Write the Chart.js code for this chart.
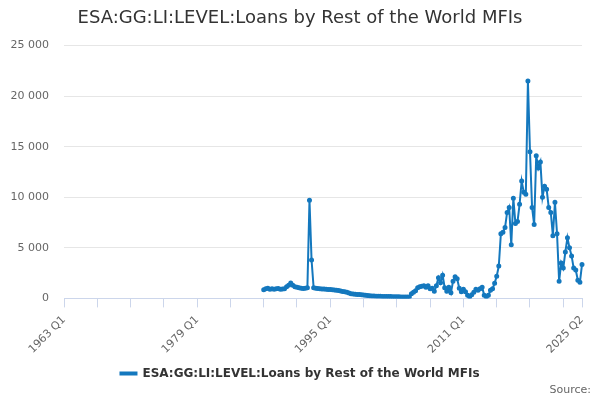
<!DOCTYPE html>
<html lang="en">
<head>
    <meta charset="UTF-8" />
    <title>ESA:GG:LI:LEVEL:Loans by Rest of the World MFIs</title>
    <script src="https://cdn.jsdelivr.net/npm/chart.js"></script>
    <style>
        body { margin: 0; background: #fff; }
    </style>
</head>
<body>
    <canvas id="loansChart" width="600" height="400"></canvas>

    <script>
        // quarters from 1963 Q1 to 2025 Q2
        const firstYear = 1963;
        const lastYear = 2025;
        const lastQuarter = 2;
        const quarterLabels = [];
        for (let y = firstYear; y <= lastYear; y++) {
            for (let q = 1; q <= 4; q++) {
                if (y === lastYear && q > lastQuarter) break;
                quarterLabels.push(y + ' Q' + q);
            }
        }

        // series starts at 1987 Q1
        const seriesStart = '1987 Q1';
        const loanValues = [
            850, 950, 1000, 900, 950, 900, 950, 980, 900, 920,
            950, 1150, 1300, 1520, 1300, 1150, 1100, 1050, 1000, 980,
            1000, 1050, 9700, 3800, 1050, 1000, 980, 950, 930, 920,
            900, 880, 870, 850, 830, 800, 770, 730, 690, 650,
            600, 540, 470, 430, 400, 390, 380, 360, 340, 320,
            290, 260, 240, 230, 220, 210, 210, 200, 190, 190,
            180, 180, 170, 170, 160, 160, 150, 150, 140, 130,
            150, 450, 600, 750, 1050, 1150, 1200, 1250, 1100, 1250,
            950, 1000, 700, 1250, 2050, 1550, 2300, 1050, 700, 1100,
            550, 1700, 2150, 1950, 1000, 650, 900, 650, 300, 150,
            350, 600, 900, 800, 950, 1100, 300, 150, 300, 800,
            950, 1500, 2200, 3200, 6400, 6550, 7000, 8500, 9000, 5300,
            9900, 7400, 7600, 9300, 11600, 10500, 10300, 21500, 14500, 9000,
            7300, 14100, 12900, 13500, 10000, 11100, 10800, 9000, 8500, 6200,
            9500, 6400, 1700, 3500, 3000, 4600, 6000, 5000, 4200, 3000,
            2800, 1800, 1600, 3350
        ];

        const labelQuarters = ['1963 Q1', '1979 Q1', '1995 Q1', '2011 Q1', '2025 Q2'];
        const yTicks = [0, 5000, 10000, 15000, 20000, 25000];

        const startIndex = quarterLabels.indexOf(seriesStart);
        const seriesData = quarterLabels.map((_, i) =>
            i >= startIndex && i - startIndex < loanValues.length ? loanValues[i - startIndex] : null);

        const lineColor = '#1478be';
        Chart.defaults.font.family = '"DejaVu Sans", sans-serif';

        function formatThousands(v) {
            return String(v).replace(/\B(?=(\d{3})+(?!\d))/g, ' ');
        }

        const ctx = document.getElementById('loansChart').getContext('2d');
        new Chart(ctx, {
            type: 'line',
            data: {
                labels: quarterLabels,
                datasets: [{
                    label: 'ESA:GG:LI:LEVEL:Loans by Rest of the World MFIs',
                    data: seriesData,
                    borderColor: lineColor,
                    backgroundColor: lineColor,
                    borderWidth: 2,
                    pointRadius: 1.5,
                    pointHoverRadius: 0,
                    tension: 0,
                    fill: false
                }]
            },
            options: {
                responsive: false,
                animation: false,
                layout: { padding: { left: 9, right: 9 } },
                plugins: {
                    title: {
                        display: true,
                        text: 'ESA:GG:LI:LEVEL:Loans by Rest of the World MFIs',
                        color: '#333333',
                        font: { size: 18, weight: 'normal' },
                        padding: { top: 8, bottom: 16 }
                    },
                    subtitle: {
                        display: true,
                        text: 'Source:',
                        position: 'bottom',
                        align: 'end',
                        color: '#666666',
                        font: { size: 11, weight: 'normal' },
                        padding: { top: 0, bottom: 3 }
                    },
                    legend: {
                        position: 'bottom',
                        maxHeight: 22.4,
                        labels: {
                            boxWidth: 16,
                            boxHeight: 2,
                            color: '#333333',
                            font: { size: 12, weight: 'bold' },
                            padding: 6
                        }
                    },
                    tooltip: { enabled: false }
                },
                scales: {
                    x: {
                        offset: false,
                        grid: {
                            offset: false,
                            drawOnChartArea: false,
                            drawTicks: true,
                            tickLength: 9,
                            color: '#ccd6eb'
                        },
                        border: { color: '#ccd6eb' },
                        ticks: {
                            autoSkip: false,
                            minRotation: 45,
                            maxRotation: 45,
                            padding: 6,
                            color: '#666666',
                            font: { size: 11 },
                            callback: function (value) {
                                const lab = this.getLabelForValue(value);
                                return labelQuarters.includes(lab) ? lab : '';
                            }
                        },
                        afterBuildTicks: (scale) => {
                            const last = quarterLabels.length - 1;
                            scale.ticks = scale.ticks.filter(t => t.value % 16 === 0 || t.value === last);
                        },
                        afterFit: (scale) => { scale.height = 63; }
                    },
                    y: {
                        min: 0,
                        max: 25000,
                        afterBuildTicks: (scale) => {
                            scale.ticks = yTicks.map(v => ({ value: v }));
                        },
                        grid: { color: '#e6e6e6', drawTicks: false },
                        border: { display: false },
                        ticks: {
                            color: '#666666',
                            font: { size: 11 },
                            padding: 15,
                            callback: (v) => formatThousands(v)
                        },
                        afterFit: (scale) => { scale.width = 55; }
                    },
                    yRight: {
                        position: 'right',
                        grid: { display: false, drawTicks: false },
                        border: { display: false },
                        ticks: { display: false },
                        afterFit: (scale) => { scale.width = 9; }
                    }
                }
            }
        });
    </script>
</body>
</html>
